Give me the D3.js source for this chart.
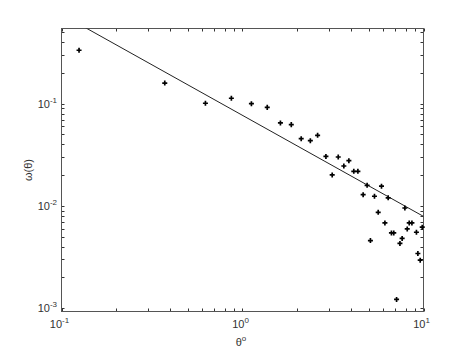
<!doctype html>
<html>
<head>
<style>
    body { margin: 0; background: #fff; }
    text { font-family: "Liberation Sans", Arial, sans-serif; fill: #333; }
</style>
<script src="https://d3js.org/d3.v7.min.js"></script>
</head>
<body>
<svg width="468" height="351"></svg>
<script>
    // scatter points (theta in degrees, omega)
    var theta = [0.125, 0.372, 0.624, 0.868, 1.12, 1.37, 1.62, 1.86, 2.11, 2.37, 2.6,
                 2.89, 3.13, 3.38, 3.63, 3.87, 4.12, 4.34, 4.64, 4.88, 5.09, 5.36,
                 5.62, 5.86, 6.12, 6.38, 6.65, 6.85, 7.1, 7.41, 7.62, 7.89, 8.13,
                 8.34, 8.63, 9.14, 9.31, 9.59, 9.84];
    var omega = [0.333, 0.159, 0.101, 0.113, 0.1, 0.092, 0.0648, 0.0624, 0.0455, 0.0435, 0.049,
                 0.0305, 0.0201, 0.0301, 0.0246, 0.0277, 0.0218, 0.0218, 0.0129, 0.0159, 0.00459, 0.01245,
                 0.00867, 0.0156, 0.00683, 0.012, 0.00545, 0.00545, 0.00122, 0.0043, 0.00481, 0.00955, 0.00596,
                 0.00683, 0.00683, 0.00553, 0.00343, 0.00295, 0.0062];
    // fitted power law, end points
    var fitTheta = [0.1, 10];
    var fitOmega = [0.748, 0.0079];

    var xMajor = [-1, 0, 1];
    var yMajor = [-3, -2, -1];

    var svg = d3.select("svg");
    var mLeft = 61.5, mRight = 423.5, mTop = 28.5, mBottom = 311.5;

    var x = d3.scaleLog().domain([0.1, 10]).range([mLeft, mRight]);
    var y = d3.scaleLog().domain([Math.pow(10, -3.032), Math.pow(10, -0.265)]).range([mBottom, mTop]);

    svg.append("clipPath").attr("id", "clip")
       .append("rect").attr("x", mLeft).attr("y", mTop)
       .attr("width", mRight - mLeft).attr("height", mBottom - mTop);

    // ticks
    var xt = [], yt = [];
    for (var e = -1; e < 1; e++) for (var m = 1; m < 10; m++) xt.push(m * Math.pow(10, e));
    xt.push(10);
    for (var e2 = -3; e2 < 0; e2++) for (var m2 = 1; m2 < 10; m2++) {
        var v = m2 * Math.pow(10, e2);
        if (y(v) >= mTop) yt.push(v);
    }

    var g = svg.append("g");
    var tl = 3;
    xt.forEach(function(v) {
        var xx = Math.round(x(v)) + 0.5;
        g.append("line").attr("x1", xx).attr("x2", xx)
         .attr("y1", mBottom).attr("y2", mBottom - tl).attr("stroke", "#333");
        g.append("line").attr("x1", xx).attr("x2", xx)
         .attr("y1", mTop).attr("y2", mTop + tl).attr("stroke", "#333");
    });
    yt.forEach(function(v) {
        var yy = Math.round(y(v)) + 0.5;
        g.append("line").attr("x1", mLeft).attr("x2", mLeft + tl)
         .attr("y1", yy).attr("y2", yy).attr("stroke", "#333");
        g.append("line").attr("x1", mRight).attr("x2", mRight - tl)
         .attr("y1", yy).attr("y2", yy).attr("stroke", "#333");
    });

    // box
    g.append("rect").attr("x", mLeft).attr("y", mTop)
     .attr("width", mRight - mLeft).attr("height", mBottom - mTop)
     .attr("fill", "none").attr("stroke", "#555").attr("stroke-width", 1);

    // tick labels
    xMajor.forEach(function(p) {
        var t = svg.append("text").attr("x", x(Math.pow(10, p)) - 2).attr("y", 328)
                   .attr("text-anchor", "middle").attr("font-size", 11);
        t.append("tspan").text("10");
        t.append("tspan").attr("dy", -5).attr("font-size", 8).text(p);
    });
    yMajor.forEach(function(p) {
        var t = svg.append("text").attr("x", 57).attr("y", y(Math.pow(10, p)) + 4)
                   .attr("text-anchor", "end").attr("font-size", 11);
        t.append("tspan").text("10");
        t.append("tspan").attr("dy", -5).attr("font-size", 8).text(p);
    });

    // axis titles
    var xl = svg.append("text").attr("x", 241).attr("y", 346)
                .attr("text-anchor", "middle").attr("font-size", 11);
    xl.append("tspan").text("θ");
    xl.append("tspan").attr("dy", -5).attr("font-size", 8).text("o");

    svg.append("text").attr("transform", "translate(32," + ((mTop + mBottom) / 2) + ") rotate(-90)")
       .attr("text-anchor", "middle").attr("font-size", 11).text("ω(θ)");

    // fit line
    svg.append("path")
       .datum(d3.zip(fitTheta, fitOmega))
       .attr("clip-path", "url(#clip)")
       .attr("d", d3.line().x(function(d) { return x(d[0]); }).y(function(d) { return y(d[1]); }))
       .attr("fill", "none").attr("stroke", "#222").attr("stroke-width", 1);

    // points
    svg.append("g").selectAll("path")
       .data(d3.zip(theta, omega))
       .enter().append("path")
       .attr("transform", function(d) { return "translate(" + x(d[0]) + "," + y(d[1]) + ")"; })
       .attr("d", d3.symbol().type(d3.symbolCross).size(14))
       .attr("fill", "#000");
</script>
</body>
</html>
